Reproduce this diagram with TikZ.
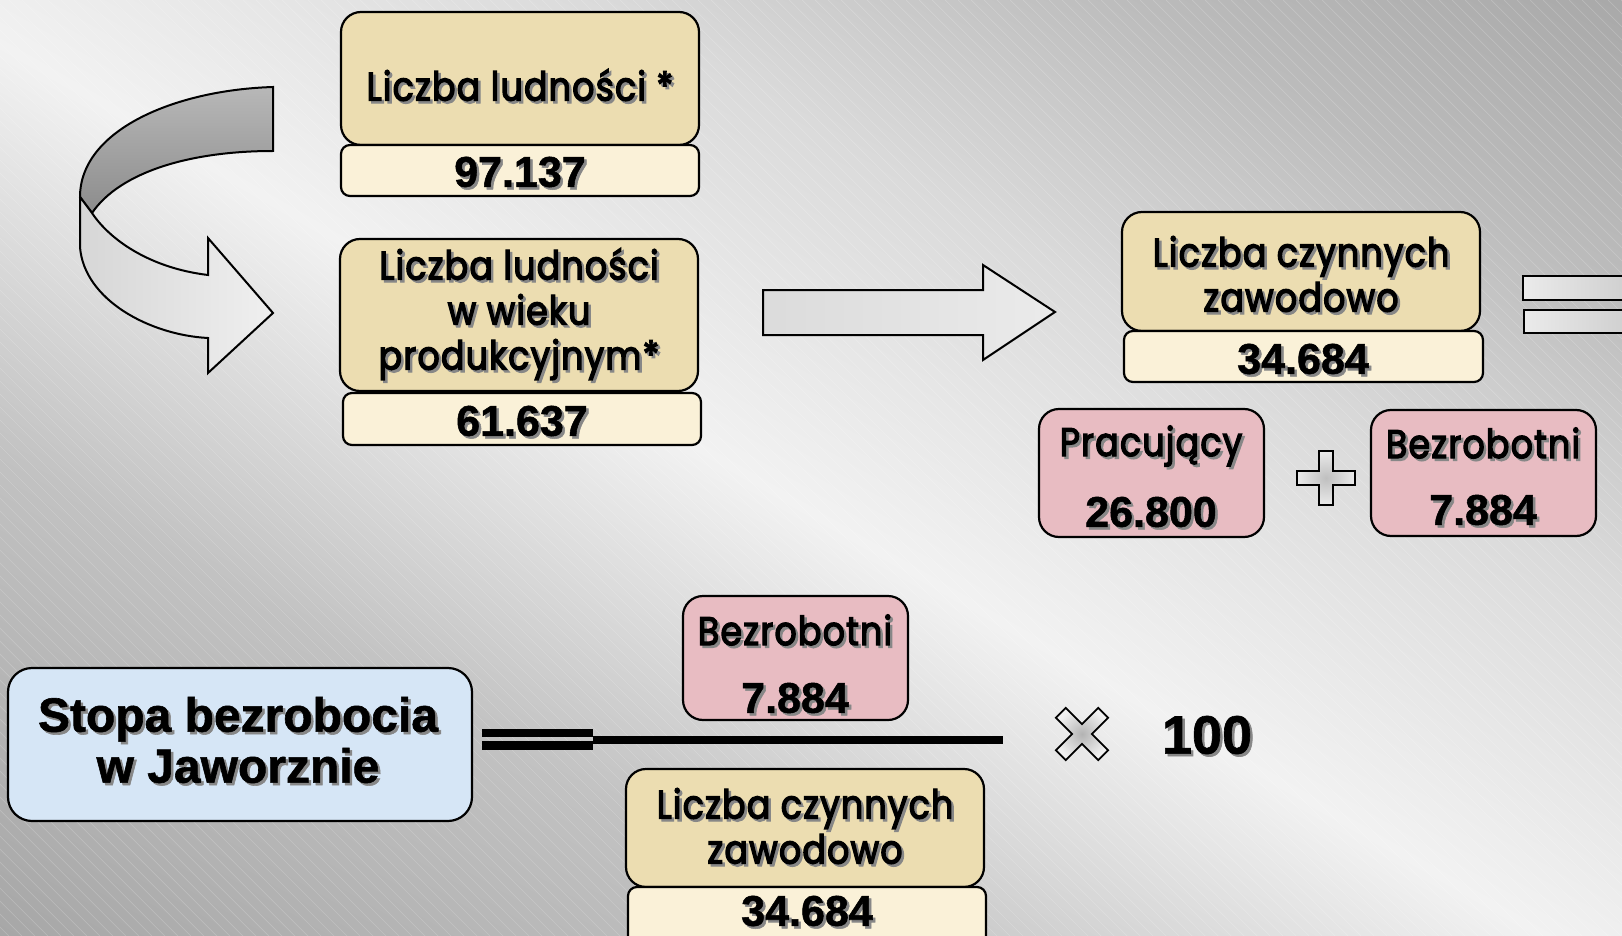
\documentclass[tikz,border=0pt]{standalone}
\usepackage{fontspec}
\setmainfont{Liberation Sans}
\newfontfamily\comic{Poppins}[FakeStretch=0.87, FakeBold=3.2, LetterSpace=3]
\newfontfamily\numf{Liberation Sans}[FakeBold=1.2]
\definecolor{beigec}{RGB}{236,221,177}
\definecolor{valc}{RGB}{250,241,216}
\definecolor{pinkc}{RGB}{232,188,194}
\definecolor{bluec}{RGB}{214,230,246}
\definecolor{shadowc}{RGB}{135,135,135}
\definecolor{g1}{RGB}{163,163,163}
\definecolor{g2}{RGB}{194,194,194}
\definecolor{g3}{RGB}{242,242,242}
\definecolor{g4}{RGB}{218,218,218}
\definecolor{g5}{RGB}{188,188,188}
\definecolor{g6}{RGB}{164,164,164}
\tikzset{
  box/.style={draw=black, line width=2.2pt, rounded corners=20pt, inner sep=0pt},
  beige/.style={box, fill=beigec},
  valbox/.style={box, rounded corners=9pt, fill=valc},
  pinkbox/.style={box, fill=pinkc},
  bluebox/.style={box, fill=bluec, rounded corners=24pt},
  ctext/.style={font=\comic\fontsize{40}{45}\selectfont, align=center, inner sep=0pt},
  ntext/.style={font=\numf\bfseries\fontsize{43}{48}\selectfont, inner sep=0pt},
  stext/.style={font=\numf\bfseries\fontsize{48}{51}\selectfont, align=center, inner sep=0pt},
  htext/.style={font=\numf\bfseries\fontsize{54}{58}\selectfont, inner sep=0pt},
  hatch/.style={white, opacity=0.18, line width=0.7pt},
  outl/.style={draw=black, line width=2pt, line join=miter},
}
\newcommand\stxt[4]{%
  \node[#2, text=shadowc] (#1s) at ([shift={(2.5,2.5)}]#3) {#4};
  \node[#2] (#1) at (#3) {#4};}
\begin{document}
\begin{tikzpicture}[x=1pt,y=-1pt]
\useasboundingbox (0,0) rectangle (1622,936);
\clip (0,0) rectangle (1622,936);
% background gradient
\begin{scope}[transform canvas={rotate=60}]
  \shade[left color=g1, right color=g2] (-870,-100) rectangle (-389,2000);
  \shade[left color=g2, right color=g3] (-390,-100) rectangle (-39,2000);
  \shade[left color=g3, right color=g4] (-40,-100) rectangle (301,2000);
  \shade[left color=g4, right color=g5] (300,-100) rectangle (561,2000);
  \shade[left color=g5, right color=g6] (560,-100) rectangle (870,2000);
\end{scope}
\foreach \k in {-940,-927,...,1622} \draw[hatch] (\k,0) -- (\k+936,936);

% curved arrow
\shade[outl, top color=black!28, bottom color=black!45]
  (273,87) .. controls (175,90) and (80,130) .. (80,197)
  -- (92,213) .. controls (120,172) and (190,151) .. (273,151) -- cycle;
\shade[outl, left color=black!16, right color=black!6]
  (80,197) -- (80,247) .. controls (84,300) and (150,335) .. (208,338)
  -- (208,373) -- (273,313) -- (208,238) -- (208,275)
  .. controls (150,268) and (110,240) .. (92,213) -- cycle;

% straight arrow
\shade[outl, left color=black!14, right color=black!8]
  (763,290) -- (983,290) -- (983,265) -- (1055,312) -- (983,360)
  -- (983,335) -- (763,335) -- cycle;

% equals at right edge
\shade[outl, left color=black!8, right color=black!20] (1523,276) rectangle (1640,300);
\shade[outl, left color=black!8, right color=black!20] (1524,310) rectangle (1640,333);

% plus
\begin{scope}[shift={(1326,478)}]
\shade[outl, line width=1.8pt, inner color=black!25, outer color=black!8]
  (-7,-27) -- (7,-27) -- (7,-7) -- (29,-7) -- (29,7) -- (7,7) -- (7,27)
  -- (-7,27) -- (-7,7) -- (-29,7) -- (-29,-7) -- (-7,-7) -- cycle;
\end{scope}

% times
\begin{scope}[shift={(1082,734)}, rotate=45]
\shade[outl, line width=1.8pt, inner color=black!30, outer color=black!6]
  (-7,-30) -- (7,-30) -- (7,-7) -- (30,-7) -- (30,7) -- (7,7) -- (7,30)
  -- (-7,30) -- (-7,7) -- (-30,7) -- (-30,-7) -- (-7,-7) -- cycle;
\end{scope}

% boxes
\node[beige, minimum width=358pt, minimum height=133pt] (ludn) at (520,78.5) {};
\node[valbox, minimum width=358pt, minimum height=51pt] (ludnv) at (520,170.5) {};
\node[beige, minimum width=358pt, minimum height=152pt] (prod) at (519,315) {};
\node[valbox, minimum width=358pt, minimum height=52pt] (prodv) at (522,419) {};
\node[beige, minimum width=358pt, minimum height=119pt] (czyn) at (1301,271.5) {};
\node[valbox, minimum width=359pt, minimum height=51pt] (czynv) at (1303.5,356.5) {};
\node[pinkbox, minimum width=225pt, minimum height=128pt] (prac) at (1151.5,473) {};
\node[pinkbox, minimum width=225pt, minimum height=126pt] (bezr) at (1483.5,473) {};
\node[pinkbox, minimum width=225pt, minimum height=124pt] (bezr2) at (795.5,658) {};
\node[bluebox, minimum width=464pt, minimum height=153pt] (stopa) at (240,744.5) {};
\node[beige, minimum width=358pt, minimum height=118pt] (czyn2) at (805,828) {};
\node[valbox, minimum width=358pt, minimum height=74pt] (czyn2v) at (807,924) {};

% equals and fraction line
\fill[black] (482,729) rectangle (593,737);
\fill[black] (482,741) rectangle (593,750);
\fill[black] (593,736) rectangle (1003,744);

% texts
\stxt{t1}{ctext}{520,85}{Liczba ludności *}
\stxt{v1}{ntext}{520,172}{97.137}
\stxt{t2}{ctext}{519,314}{Liczba ludności\\w wieku\\produkcyjnym*}
\stxt{v2}{ntext}{522,421}{61.637}
\stxt{t3}{ctext}{1301,274}{Liczba czynnych\\zawodowo}
\stxt{v3}{ntext}{1303,359}{34.684}
\stxt{t4}{ctext}{1151,446}{Pracujący}
\stxt{v4}{ntext}{1151,512}{26.800}
\stxt{t5}{ctext}{1483,443}{Bezrobotni}
\stxt{v5}{ntext}{1483,510}{7.884}
\stxt{t6}{ctext}{795,630}{Bezrobotni}
\stxt{v6}{ntext}{795,698}{7.884}
\stxt{t7}{stext}{238,740}{Stopa bezrobocia\\w Jaworznie}
\stxt{t8}{ctext}{805,826}{Liczba czynnych\\zawodowo}
\stxt{v8}{ntext}{807,911}{34.684}
\stxt{h}{htext}{1207,735}{100}
\end{tikzpicture}
\end{document}
